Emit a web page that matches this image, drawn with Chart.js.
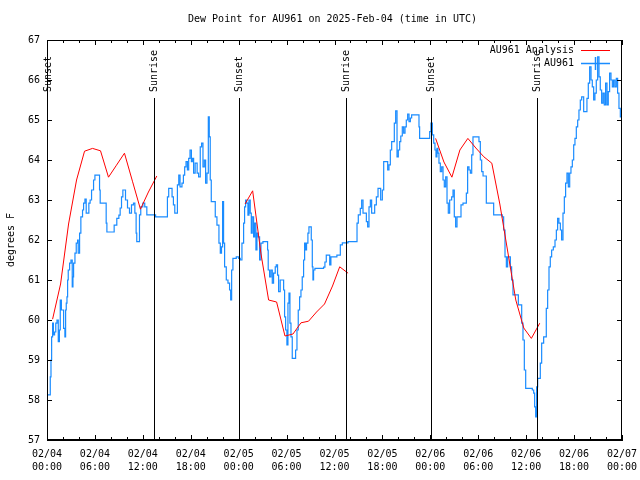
<!DOCTYPE html>
<html><head><meta charset="utf-8">
<script src="https://cdn.jsdelivr.net/npm/chart.js@4/dist/chart.umd.min.js"></script>
<style>html,body{margin:0;padding:0;background:#fff}#wrap{width:640px;height:480px;position:relative}</style>
</head><body><div id="wrap"><canvas id="c" width="640" height="480"></canvas></div>
<script>
const titleText = 'Dew Point for AU961 on 2025-Feb-04 (time in UTC)';
const yTitle = 'degrees F';
const xTickDates = ['02/04','02/04','02/04','02/04','02/05','02/05','02/05','02/05','02/06','02/06','02/06','02/06','02/07'];
const xTickTimes = ['00:00','06:00','12:00','18:00','00:00','06:00','12:00','18:00','00:00','06:00','12:00','18:00','00:00'];
const sunHours = [0.0, 13.35, 23.99, 37.4, 48.04, 61.3];
const sunLabels = ['Sunset','Sunrise','Sunset','Sunrise','Sunset','Sunrise'];
const seriesNames = ['AU961 Analysis','AU961'];

const analysisHours = [0.7,1.7,2.7,3.7,4.7,5.7,6.7,7.7,8.7,9.7,10.7,11.7,12.7,13.75, 19,
  24.8,25.75,26.8,27.75,28.75,29.8,30.8,31.8,32.75,33.75,34.75,35.75,36.65,37.7, 43,
  48.66,49.7,50.7,51.7,52.7,53.7,54.7,55.7,56.7,57.7,58.7,59.7,60.65,61.7];
const analysisValues = [60.02,60.9,62.4,63.5,64.22,64.29,64.23,63.57,63.87,64.17,63.47,62.77,63.2,63.6, null,
  62.9,63.23,61.65,60.5,60.45,59.6,59.65,59.93,59.97,60.2,60.4,60.85,61.33,61.17, null,
  64.54,63.95,63.57,64.25,64.54,64.3,64.08,63.92,62.9,61.7,60.5,59.8,59.54,59.92];

const dewHours = [0.1,0.41,0.5,0.58,0.7,0.8,0.95,1.1,1.25,1.41,1.55,1.66,1.8,1.95,2.08,2.24,2.33,2.41,2.5,2.58,2.66,2.83,3.0,3.16,3.25,3.33,3.5,3.66,3.83,3.91,4.08,4.24,4.45,4.58,4.75,4.91,5.24,5.4,5.58,5.83,6.0,6.58,6.66,7.41,7.5,8.41,8.74,9.0,9.16,9.33,9.5,9.83,10.08,10.33,10.58,10.83,11.0,11.16,11.24,11.58,11.74,12.0,12.24,12.5,13.6,15.08,15.24,15.66,15.83,16.0,16.33,16.5,16.66,16.9,17.08,17.24,17.41,17.58,17.74,17.91,18.08,18.2,18.36,18.55,18.8,18.98,19.19,19.36,19.53,19.7,19.86,20.03,20.2,20.32,20.44,20.57,21.07,21.28,21.53,21.7,21.85,21.99,22.11,22.24,22.45,22.66,22.86,23.0,23.12,23.28,23.7,24.0,24.2,24.41,24.62,24.74,24.87,25.0,25.16,25.29,25.45,25.58,25.7,25.87,26.0,26.16,26.29,26.45,26.62,26.79,27.04,27.62,27.7,27.87,28.04,28.21,28.37,28.58,28.71,28.87,29.0,29.2,29.63,29.75,29.88,30.04,30.17,30.3,30.42,30.55,30.71,31.13,31.3,31.46,31.63,31.8,31.96,32.13,32.26,32.38,32.5,32.67,32.8,33.09,33.22,33.3,33.38,33.55,34.63,34.8,34.97,35.4,35.55,36.3,36.73,36.98,37.69,38.82,38.98,39.23,39.4,39.57,39.99,40.15,40.32,40.49,40.65,41.03,41.24,41.45,41.78,41.99,42.16,42.66,42.82,42.99,43.16,43.49,43.66,43.83,43.99,44.16,44.3,44.49,44.66,44.83,44.99,45.16,45.33,45.5,45.66,46.58,46.66,47.92,48.08,48.25,48.42,48.58,48.71,48.83,48.95,49.08,49.25,49.42,49.59,49.75,49.92,50.09,50.25,50.42,50.67,50.84,51.0,51.17,51.34,51.84,52.09,52.51,52.67,52.84,53.01,53.18,53.34,54.09,54.26,54.43,54.6,55.01,55.76,55.93,57.01,57.18,57.35,57.52,57.68,58.02,58.18,58.35,59.02,59.44,59.6,59.77,59.94,60.77,60.94,61.06,61.19,61.31,61.44,61.77,61.94,62.19,62.52,62.69,62.86,63.02,63.19,63.4,63.61,63.78,63.94,64.1,64.28,64.44,64.61,64.78,64.94,65.11,65.28,65.45,65.61,65.78,65.95,66.11,66.28,66.45,66.61,66.78,66.95,67.2,67.61,67.78,67.95,68.12,68.28,68.45,68.61,68.78,68.95,69.12,69.28,69.45,69.62,69.78,69.95,70.12,70.28,70.45,70.62,70.79,70.95,71.12,71.29,71.45,71.62,71.79,72.0];
const dewValues = [58.13,58.58,59.0,59.58,59.92,59.63,59.7,59.92,60.0,59.46,59.75,60.5,60.25,60.25,59.79,59.58,60.25,60.42,60.58,61.0,61.25,61.42,61.5,60.83,61.08,61.42,61.67,61.92,62.0,61.67,62.17,62.58,62.75,62.92,63.02,62.67,62.92,63.0,63.25,63.5,63.62,63.25,62.92,62.42,62.2,62.37,62.54,62.62,62.8,63.08,63.25,63.0,62.8,62.67,62.88,62.92,62.67,62.17,61.96,62.63,62.83,62.92,62.83,62.63,62.58,63.08,63.29,63.08,62.88,62.67,63.38,63.62,63.33,63.42,63.62,63.83,63.96,63.75,64.04,64.25,63.96,64.04,63.67,63.92,63.67,63.58,64.33,64.42,63.83,64.0,63.42,63.67,65.08,64.58,63.5,62.96,62.58,62.37,61.92,61.67,61.83,62.96,61.92,61.33,61.0,60.92,60.75,60.5,61.25,61.54,61.58,61.54,61.5,61.92,62.42,62.83,63.0,62.92,62.62,63.0,62.67,62.17,62.58,62.08,62.42,61.75,62.17,62.08,61.5,61.92,61.96,61.75,61.25,61.08,61.25,60.92,61.17,61.33,61.38,61.12,60.71,61.0,60.75,60.08,59.75,59.38,60.42,60.67,59.92,59.58,59.04,59.25,59.75,60.25,60.58,60.75,61.08,61.5,61.92,61.75,61.92,62.17,62.33,62.0,61.33,61.0,61.25,61.29,61.32,61.45,61.62,61.38,61.58,61.62,61.88,61.93,61.96,62.42,62.63,62.79,63.0,62.67,62.46,62.33,62.83,63.0,62.67,62.88,63.08,63.29,63.0,63.25,63.96,63.75,63.88,64.25,64.46,64.92,65.23,64.08,64.25,64.46,64.6,64.83,64.67,64.83,65.0,65.15,64.96,65.05,65.13,64.83,64.54,64.71,64.92,64.63,64.42,64.25,64.08,64.29,64.17,63.92,63.71,63.83,63.5,63.33,63.58,62.92,62.67,63.0,63.08,63.25,62.58,62.33,62.58,62.88,62.92,63.17,63.83,63.75,63.67,64.13,64.58,64.46,64.0,63.71,63.6,62.92,62.92,62.63,62.58,62.25,61.58,61.33,61.58,61.33,61.0,60.63,60.38,59.92,59.5,58.75,58.29,58.25,58.17,57.83,57.58,58.33,58.54,58.92,59.42,59.58,60.29,60.75,61.33,61.58,61.75,61.83,62.0,62.25,62.54,62.42,62.25,62.0,62.67,63.08,63.42,63.67,63.33,63.67,63.83,64.0,64.38,64.54,64.83,65.0,65.25,65.5,65.58,65.21,65.54,65.92,66.33,66.0,65.83,65.5,65.67,66.0,66.58,66.08,65.75,65.42,65.67,65.38,65.92,65.38,65.71,66.17,66.0,65.83,66.0,65.83,66.04,65.67,65.29,65.08,65.08];

const FONT = '"DejaVu Sans Mono", "Liberation Mono", monospace';
const RED = '#ff0000';
const BLUE = '#1a8cff';

const overlay = {
  id: 'overlay',
  afterDatasetsDraw(chart) {
    const ctx = chart.ctx;
    const a = chart.chartArea;
    const xs = chart.scales.x, ys = chart.scales.y;
    ctx.save();
    ctx.strokeStyle = '#000';
    ctx.fillStyle = '#000';
    ctx.lineWidth = 1;
    ctx.strokeRect(Math.round(a.left) + 0.5, Math.round(a.top) + 0.5, Math.round(a.right - a.left) - 1, Math.round(a.bottom - a.top) - 1);
    ctx.beginPath();
    for (let v = 57; v <= 67; v++) {
      const y = Math.round(ys.getPixelForValue(v)) + 0.5;
      ctx.moveTo(a.left, y); ctx.lineTo(a.left + 5, y);
      ctx.moveTo(a.right, y); ctx.lineTo(a.right - 5, y);
    }
    for (let h = 0; h <= 72; h += 2) {
      const x = Math.round(xs.getPixelForValue(h)) + 0.5;
      const len = (h % 6 === 0) ? 5 : 3;
      ctx.moveTo(x, a.bottom); ctx.lineTo(x, a.bottom - len);
      ctx.moveTo(x, a.top); ctx.lineTo(x, a.top + len);
    }
    ctx.stroke();
    ctx.beginPath();
    sunHours.forEach(h => {
      const x = Math.round(xs.getPixelForValue(h)) + 0.5;
      ctx.moveTo(x, 98); ctx.lineTo(x, a.bottom);
    });
    ctx.stroke();
    ctx.font = '10px ' + FONT;
    ctx.textAlign = 'left';
    ctx.textBaseline = 'middle';
    sunHours.forEach((h, i) => {
      const x = xs.getPixelForValue(h);
      ctx.save();
      ctx.translate(x + 1, 92);
      ctx.rotate(-Math.PI / 2);
      ctx.fillText(sunLabels[i], 0, 0);
      ctx.restore();
    });
    ctx.textAlign = 'center';
    ctx.fillText(titleText, (a.left + a.right) / 2 - 2, 19);
    ctx.textAlign = 'right';
    ctx.fillText(seriesNames[0], 574, 50);
    ctx.fillText(seriesNames[1], 574, 63);
    ctx.strokeStyle = RED; ctx.lineWidth = 1;
    ctx.beginPath(); ctx.moveTo(581, 50.5); ctx.lineTo(610, 50.5); ctx.stroke();
    ctx.strokeStyle = BLUE; ctx.lineWidth = 1.5;
    ctx.beginPath(); ctx.moveTo(581, 63.5); ctx.lineTo(610, 63.5);
    ctx.moveTo(595.5, 57); ctx.lineTo(595.5, 70); ctx.stroke();
    ctx.restore();
  }
};

new Chart(document.getElementById('c'), {
  type: 'line',
  data: {
    datasets: [
      {
        label: seriesNames[0],
        data: analysisHours.map((h, i) => ({x: h, y: analysisValues[i]})),
        borderColor: RED, borderWidth: 1, pointRadius: 0, fill: false, spanGaps: false, tension: 0
      },
      {
        label: seriesNames[1],
        data: dewHours.map((h, i) => ({x: h, y: dewValues[i]})),
        borderColor: BLUE, borderWidth: 1.2, pointRadius: 0, fill: false, stepped: true
      }
    ]
  },
  options: {
    responsive: false, animation: false, devicePixelRatio: 1,
    layout: {padding: {top: 40, right: 18, left: 0, bottom: 0}},
    plugins: {legend: {display: false}, title: {display: false}, tooltip: {enabled: false}},
    scales: {
      x: {
        type: 'linear', min: 0, max: 72,
        grid: {display: false, drawTicks: false, tickLength: 0},
        border: {display: true, color: '#000', width: 1},
        ticks: {
          stepSize: 6, autoSkip: false, maxRotation: 0, color: '#000', padding: 8,
          font: {family: FONT, size: 10, lineHeight: 1.3},
          callback: (v) => { const i = Math.round(v / 6); return [xTickDates[i], xTickTimes[i]]; }
        },
        afterFit: (s) => { s.height = 40; s.paddingLeft = 0; s.paddingRight = 0; }
      },
      y: {
        min: 57, max: 67,
        grid: {display: false, drawTicks: false, tickLength: 0},
        border: {display: true, color: '#000', width: 1},
        ticks: {stepSize: 1, color: '#000', padding: 7, font: {family: FONT, size: 10}},
        title: {display: true, text: yTitle, color: '#000', font: {family: FONT, size: 10}, padding: {top: 5, bottom: 0}},
        afterFit: (s) => { s.width = 47; }
      }
    }
  },
  plugins: [overlay]
});
</script>
</body></html>
